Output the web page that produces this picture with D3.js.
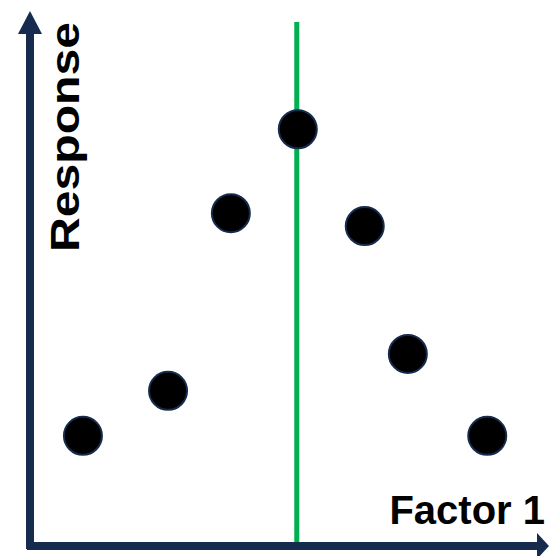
<!DOCTYPE html>
<html><head><meta charset="utf-8">
<script src="https://cdn.jsdelivr.net/npm/d3@7"></script>
<style>html,body{margin:0;padding:0;background:#fff;}svg{display:block;}</style>
</head><body>
<script>
const factorValues = [10.2, 26.6, 38.7, 51.6, 64.5, 72.8, 88.1];
const responseValues = [20.6, 29.0, 62.2, 77.9, 59.8, 35.9, 20.6];
const optimumFactor = 51.4;
const xLabel = "Factor 1";
const yLabel = "Response";

const W = 549, H = 556;
const navy = "#172B4F", green = "#00B050";
const x = d3.scaleLinear().domain([0, 100]).range([30, 549]);
const y = d3.scaleLinear().domain([0, 100]).range([546, 11]);

const svg = d3.select("body").append("svg").attr("width", W).attr("height", H);

// green optimum line
svg.append("line")
  .attr("x1", x(optimumFactor)).attr("x2", x(optimumFactor))
  .attr("y1", 22).attr("y2", y(0))
  .attr("stroke", green).attr("stroke-width", 5);

// axes with arrows
svg.append("line").attr("x1", x(0)).attr("x2", x(0)).attr("y1", 549).attr("y2", 30)
  .attr("stroke", navy).attr("stroke-width", 8);
svg.append("path")
  .attr("d", `M${x(0)},${y(100)} L${x(0)-12},${y(100)+23} L${x(0)+12},${y(100)+23} Z`)
  .attr("fill", navy);
svg.append("line").attr("x1", 27).attr("x2", 540).attr("y1", y(0)).attr("y2", y(0))
  .attr("stroke", navy).attr("stroke-width", 8);
svg.append("path")
  .attr("d", `M${x(100)},${y(0)} L${x(100)-12},${y(0)-13} L${x(100)-12},${y(0)+13} Z`)
  .attr("fill", navy);

// points
svg.selectAll("circle.pt").data(factorValues.map((f, i) => ({f, r: responseValues[i]})))
  .enter().append("circle").attr("class", "pt")
  .attr("cx", d => x(d.f)).attr("cy", d => y(d.r))
  .attr("r", 19).attr("fill", "#000").attr("stroke", navy).attr("stroke-width", 2);

// labels
svg.append("text").text(xLabel)
  .attr("x", 545).attr("y", 524).attr("text-anchor", "end")
  .attr("font-family", "Liberation Sans, Arial, sans-serif").attr("font-weight", "bold")
  .attr("font-size", 40).attr("fill", "#000");

svg.append("text").text(yLabel)
  .attr("transform", "translate(79,137) rotate(-90)")
  .attr("text-anchor", "middle")
  .attr("textLength", 230).attr("lengthAdjust", "spacingAndGlyphs")
  .attr("font-family", "Liberation Sans, Arial, sans-serif").attr("font-weight", "bold")
  .attr("font-size", 40).attr("fill", "#000");
</script>
</body></html>
